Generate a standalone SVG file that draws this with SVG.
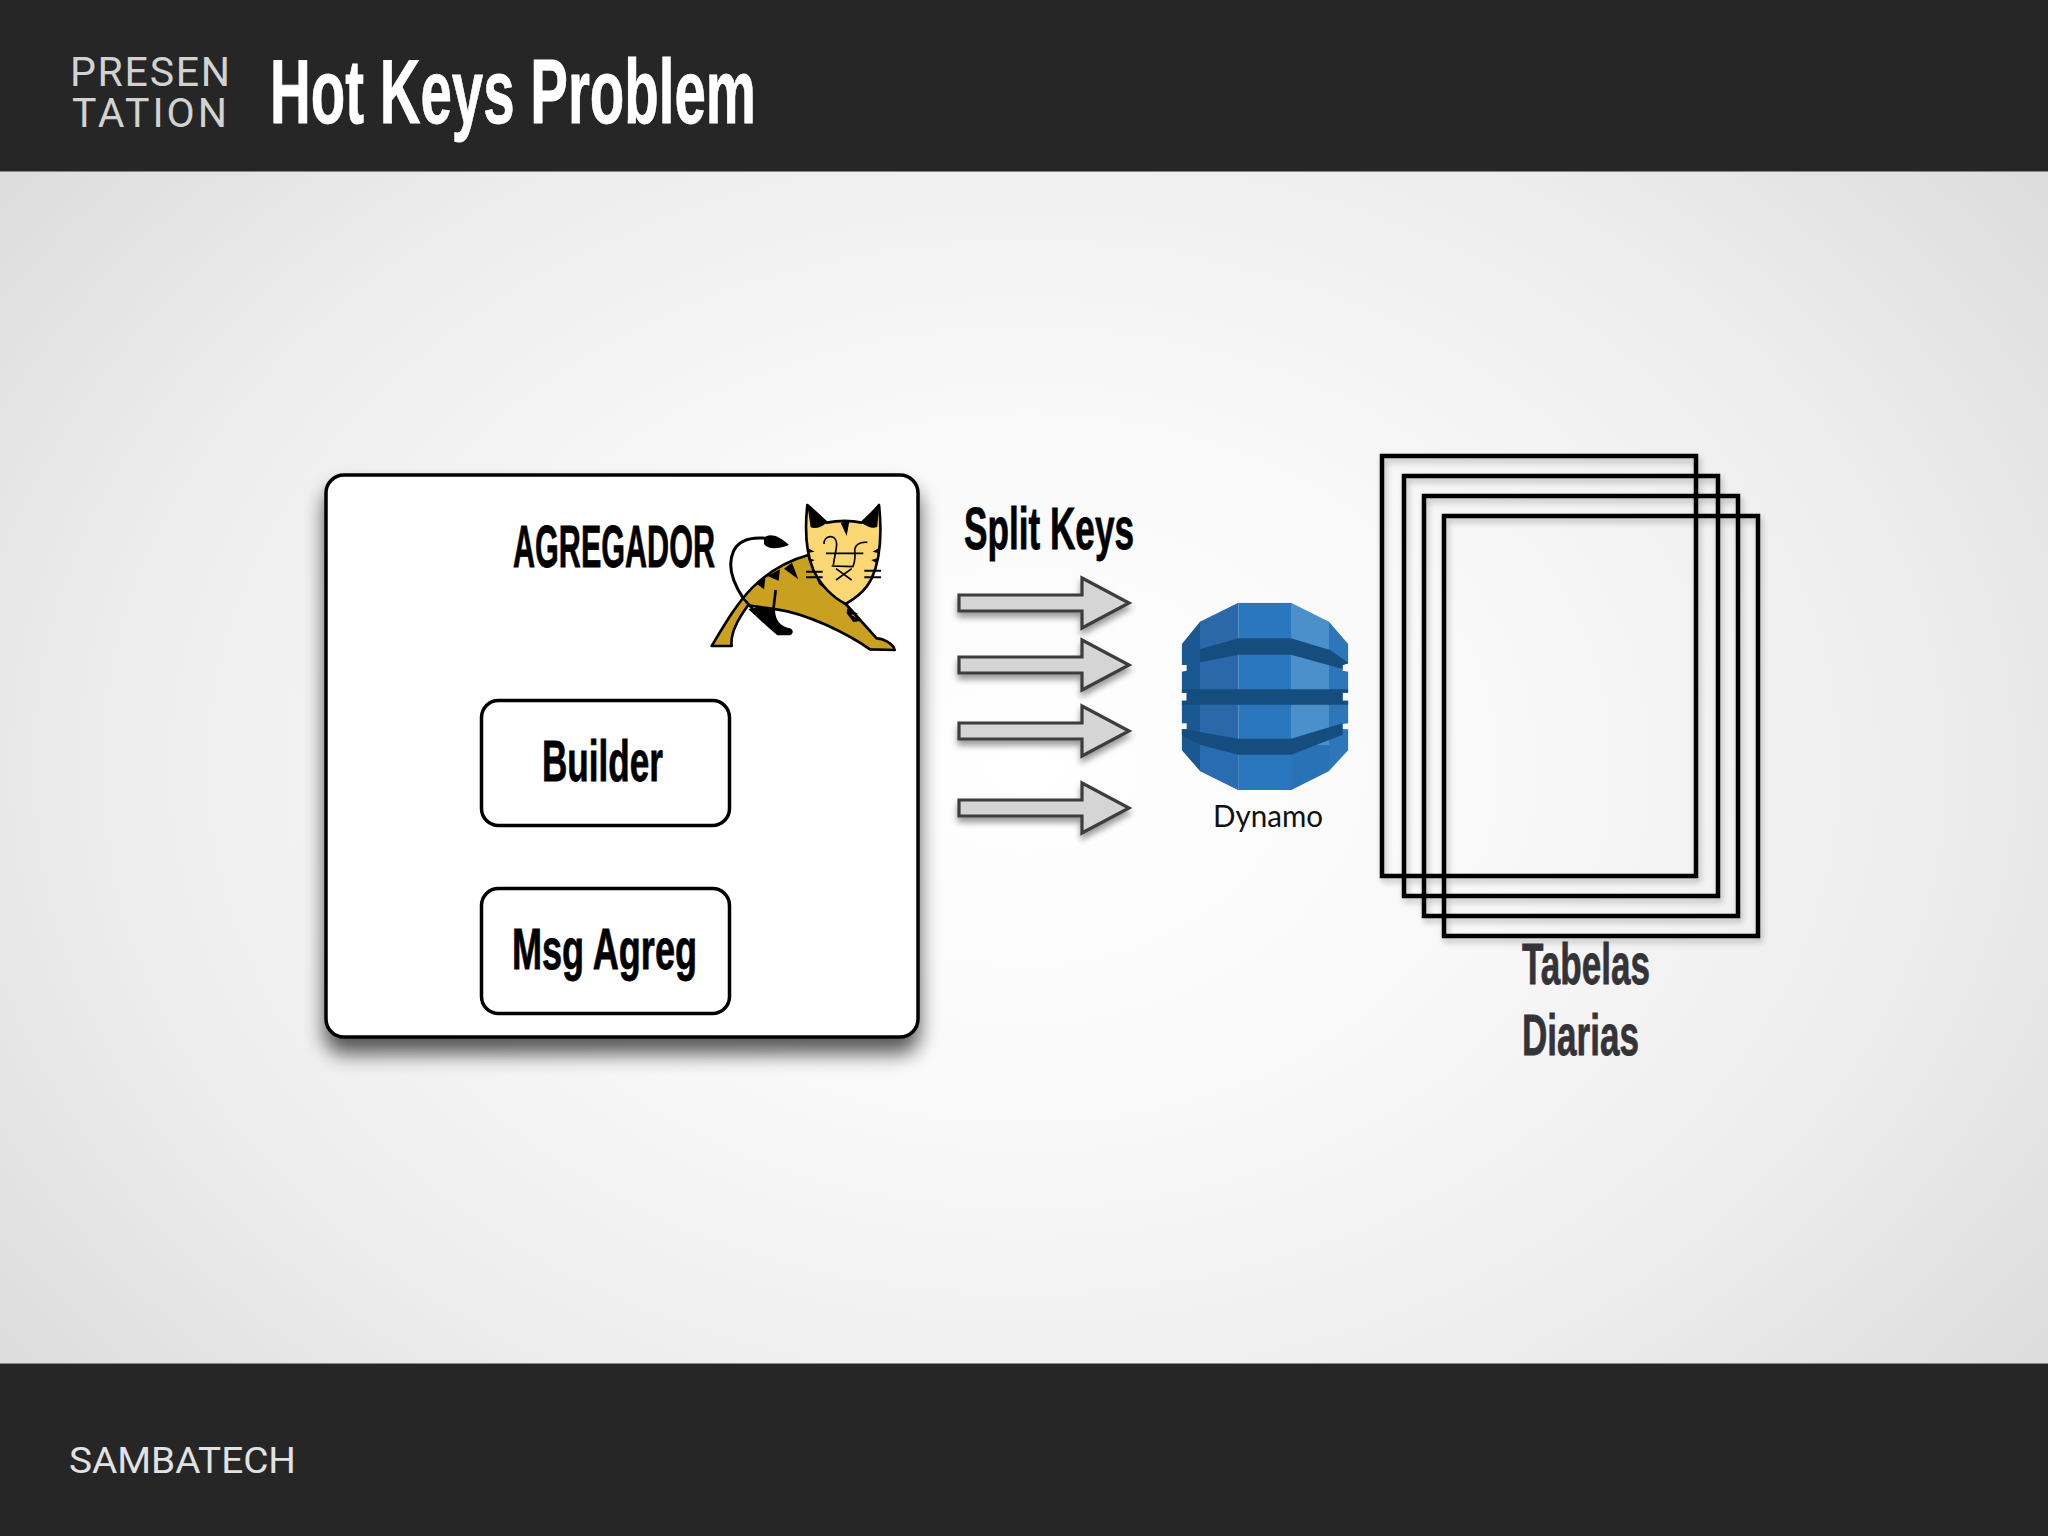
<svg xmlns="http://www.w3.org/2000/svg" width="2048" height="1536" viewBox="0 0 2048 1536">
<defs>
<radialGradient id="bg" gradientUnits="userSpaceOnUse" cx="1024" cy="768" r="1300" gradientTransform="translate(0 192) scale(1 .75)">
<stop offset="0" stop-color="#ffffff"/><stop offset=".35" stop-color="#f9f9fa"/><stop offset=".7" stop-color="#ededee"/><stop offset="1" stop-color="#dcdcdc"/>
</radialGradient>
<filter id="sBox" x="-10%" y="-10%" width="120%" height="125%"><feGaussianBlur in="SourceAlpha" stdDeviation="10"/><feOffset dy="15"/><feComponentTransfer><feFuncA type="linear" slope=".65"/></feComponentTransfer><feMerge><feMergeNode/><feMergeNode in="SourceGraphic"/></feMerge></filter>
<filter id="sSmall" x="-10%" y="-20%" width="120%" height="150%"><feGaussianBlur in="SourceAlpha" stdDeviation="3"/><feOffset dy="5"/><feComponentTransfer><feFuncA type="linear" slope=".4"/></feComponentTransfer><feMerge><feMergeNode/><feMergeNode in="SourceGraphic"/></feMerge></filter>
<filter id="sRect" x="-5%" y="-5%" width="110%" height="110%"><feGaussianBlur in="SourceAlpha" stdDeviation="3"/><feOffset dx="2" dy="4"/><feComponentTransfer><feFuncA type="linear" slope=".25"/></feComponentTransfer><feMerge><feMergeNode/><feMergeNode in="SourceGraphic"/></feMerge></filter>
<clipPath id="dyn"><path d="M265 68H423L537 125L595 193V250L578 255V272L595 275V338H578V362H595V430L578 432V447L595 448V510L537 573L423 630H265L150 573L95 510V448L110 447V430H95V362H110V338H95V275L110 272V255H95V193L150 125Z"/></clipPath>
<path id="arrow" d="M0 -8H123V-25L170 0L123 25V8H0Z"/>
</defs>
<style>
.t{font-family:"Liberation Sans Narrow","Liberation Sans",sans-serif;font-weight:700;fill:#000;stroke:#000;stroke-width:.8}
.box{fill:#fff;stroke:#000;stroke-width:3.5}
.sheet{fill:none;stroke:#000;stroke-width:4.5}
.arr{fill:#d5d5d5;stroke:#3c3c3c;stroke-width:3.2;stroke-linejoin:miter}
.hdr{font-family:"Roboto","Liberation Sans",sans-serif;font-weight:400;fill:#d2d2d2}
</style>
<rect id="background" width="2048" height="1536" fill="url(#bg)"/>
<g id="header">
<rect width="2048" height="171" fill="#262626"/>
<rect y="171" width="2048" height="1" fill="#888"/>
<text class="hdr" x="70" y="86" font-size="41" textLength="160" lengthAdjust="spacing">PRESEN</text>
<text class="hdr" x="72" y="127" font-size="41" textLength="155" lengthAdjust="spacing">TATION</text>
<text x="270" y="123" font-size="91" textLength="486" lengthAdjust="spacingAndGlyphs" style="font-family:'Liberation Sans Narrow','Liberation Sans',sans-serif;font-weight:700;fill:#fff;stroke:#fff;stroke-width:.8">Hot Keys Problem</text>
</g>
<g id="footer">
<rect y="1364" width="2048" height="172" fill="#262626"/>
<rect y="1363" width="2048" height="1" fill="#888"/>
<text x="69" y="1473" font-size="36" textLength="227" lengthAdjust="spacingAndGlyphs" style="font-family:Roboto,'Liberation Sans',sans-serif;font-weight:400;fill:#e2e2e2">SAMBATECH</text>
</g>
<g id="agregador">
<rect class="box" x="326" y="475" width="592" height="562" rx="18" filter="url(#sBox)"/>
<text class="t" x="513" y="567" font-size="59" textLength="202" lengthAdjust="spacingAndGlyphs">AGREGADOR</text>
</g>
<g id="builder">
<rect class="box" x="481.500" y="700.500" width="248" height="125" rx="17"/>
<text class="t" x="542" y="781" font-size="58" textLength="121" lengthAdjust="spacingAndGlyphs">Builder</text>
</g>
<g id="msg-agreg">
<rect class="box" x="481.500" y="888.500" width="248" height="125" rx="17"/>
<text class="t" x="512" y="969" font-size="58" textLength="185" lengthAdjust="spacingAndGlyphs">Msg Agreg</text>
</g>
<g id="tomcat" transform="translate(680 470) scale(.33333)">
<path d="M190 385C160 340 140 290 160 245C175 210 210 200 260 205" fill="none" stroke="#000" stroke-width="9"/>
<path d="M252 205C265 188 295 195 327 225C300 236 265 240 252 222Z" fill="#000"/>
<path d="M205 418C225 410 260 412 285 418C285 450 300 470 330 475C342 480 340 492 330 496L292 496C260 470 230 440 205 418Z" fill="#000"/>
<path d="M95 528C130 470 170 400 215 355C270 300 330 270 385 255L420 340L500 405L590 505C610 505 640 522 644 540L570 538C500 490 380 430 290 418C260 412 230 412 205 405C175 445 150 490 155 528Z" fill="#c9a01f" stroke="#000" stroke-width="8" stroke-linejoin="round"/>
<path d="M190 385L225 425" stroke="#000" stroke-width="8"/>
<path d="M336 278L355 328L312 296ZM300 298L296 332L262 318ZM256 325L252 358L228 340Z" fill="#000"/>
<path d="M287 360L280 420" stroke="#000" stroke-width="8"/>
<path d="M502 415L535 432L512 434L548 452L520 456L500 430Z" fill="#000"/>
<path d="M382 105C400 120 420 140 440 158C480 150 510 150 545 158C565 140 585 120 597 105C605 180 605 260 575 325C555 365 525 385 497 402C455 380 420 340 400 300C375 240 375 170 382 105Z" fill="#fbd873" stroke="#000" stroke-width="8" stroke-linejoin="round"/>
<path d="M382 105C400 120 420 140 440 158C425 172 405 178 392 172ZM597 105C585 120 565 140 545 158C560 170 580 178 592 170ZM482 158L500 198L508 154ZM380 232L404 245L385 248ZM384 264L404 270L390 278ZM600 232L578 245L596 250ZM595 264L574 270L590 280Z" fill="#000"/>
<g fill="none" stroke="#000" stroke-width="5">
<path d="M432 222C430 195 470 190 470 222C470 240 465 250 460 285M525 250C520 225 540 215 562 217M438 250H550M525 250C525 270 525 280 518 290M455 288L520 290M468 296L515 330M515 296L468 330"/>
<path d="M378 305H428M378 322H428M553 302H603M553 322H603" stroke-width="6"/>
</g>
</g>
<g id="connectors" filter="url(#sSmall)">
<use href="#arrow" class="arr" x="959" y="603"/>
<use href="#arrow" class="arr" x="959" y="665"/>
<use href="#arrow" class="arr" x="959" y="731"/>
<use href="#arrow" class="arr" x="959" y="808"/>
</g>
<g id="split-keys"><text class="t" x="964" y="549" font-size="59" textLength="170" lengthAdjust="spacingAndGlyphs">Split Keys</text></g>
<g id="dynamo">
<g transform="translate(1150 580) scale(.33333)">
<g clip-path="url(#dyn)">
<rect x="90" y="60" width="62" height="580" fill="#1b5790"/>
<rect x="150" y="60" width="115" height="580" fill="#2a68aa"/>
<rect x="265" y="60" width="158" height="580" fill="#2b77bd"/>
<rect x="423" y="60" width="114" height="580" fill="#4b8fcb"/>
<rect x="537" y="60" width="60" height="580" fill="#2c76b9"/>
<rect x="150" y="495" width="115" height="140" fill="#2a6cb0"/>
<rect x="423" y="495" width="114" height="140" fill="#2a72b6"/>
<path d="M150 208L265 175H423L540 210L597 250L578 267L423 224H265L150 247ZM90 328H597V374H90ZM90 446L265 476H423L578 430V464L423 524H265L150 494L90 462Z" fill="#144d7e"/>
</g>
</g>
<text x="1213" y="827" font-size="30" textLength="110" lengthAdjust="spacingAndGlyphs" style="font-family:Lato,'Noto Sans',sans-serif;fill:#111">Dynamo</text>
</g>
<g id="tabelas" filter="url(#sRect)">
<rect class="sheet" x="1382" y="456" width="314" height="420"/>
<rect class="sheet" x="1404" y="476" width="314" height="420"/>
<rect class="sheet" x="1424" y="496" width="314" height="420"/>
<rect class="sheet" x="1444" y="516" width="314" height="420"/>
</g>
<g id="tabelas-label">
<text class="t" x="1522" y="984" font-size="58" textLength="128" lengthAdjust="spacingAndGlyphs" style="fill:#333338;stroke:#333338">Tabelas</text>
<text class="t" x="1522" y="1055" font-size="58" textLength="117" lengthAdjust="spacingAndGlyphs" style="fill:#333338;stroke:#333338">Diarias</text>
</g>
</svg>
